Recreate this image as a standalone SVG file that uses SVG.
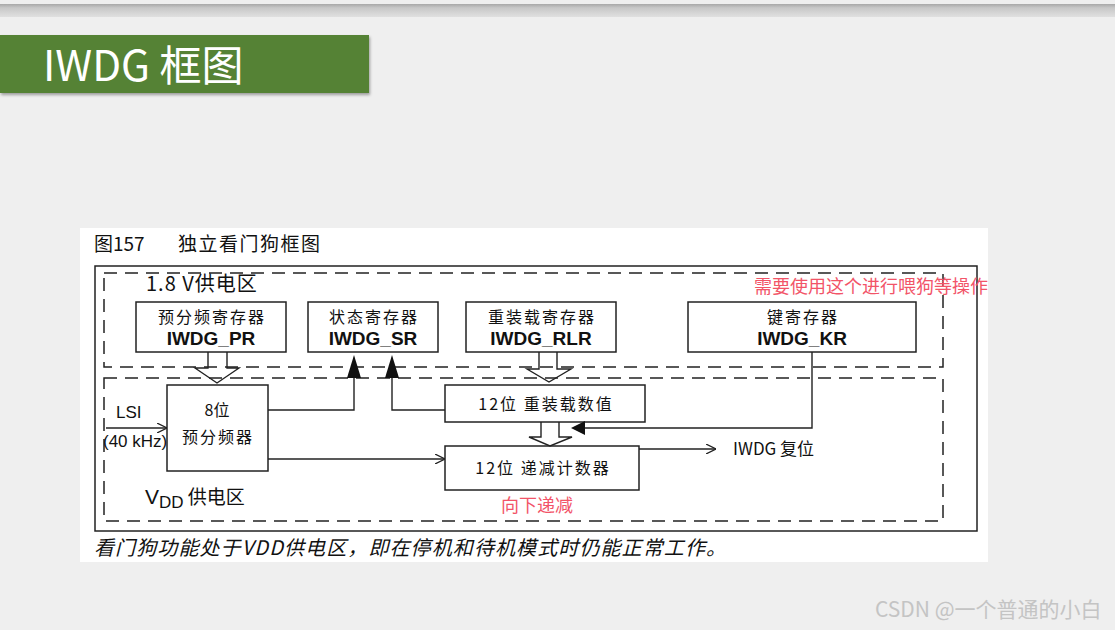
<svg xmlns="http://www.w3.org/2000/svg" width="1115" height="630" viewBox="0 0 1115 630">
<defs>
<linearGradient id="band" x1="0" y1="0" x2="0" y2="1">
<stop offset="0" stop-color="#a8a8a8"/>
<stop offset="0.3" stop-color="#c8c8c8"/>
<stop offset="1" stop-color="#e0e0e0"/>
</linearGradient>
<filter id="sh" x="-5%" y="-10%" width="110%" height="130%">
<feDropShadow dx="1" dy="2" stdDeviation="1.5" flood-color="#000" flood-opacity="0.35"/>
</filter>
<marker id="open" viewBox="0 0 10 10" refX="10" refY="5" markerWidth="10" markerHeight="10" markerUnits="userSpaceOnUse" orient="auto">
<path d="M0,0 L10,5 L0,10" fill="none" stroke="#222" stroke-width="1.3"/>
</marker>
</defs>
<style>
.t{font-family:"Liberation Sans","Noto Sans CJK SC",sans-serif;fill:#111}
.cn{font-family:"Noto Sans CJK SC","Liberation Sans",sans-serif;fill:#111}
.box{fill:#fff;stroke:#222;stroke-width:1.5}
.dash{fill:none;stroke:#222;stroke-width:1.5;stroke-dasharray:13 8}
.ln{fill:none;stroke:#222;stroke-width:1.4}
.red{font-family:"Noto Sans CJK SC","Liberation Sans",sans-serif;fill:#f25468;font-size:18px}
.lb1{font-size:16px;letter-spacing:2px;text-anchor:middle}
.lb2{font-size:19px;font-weight:bold;text-anchor:middle}
</style>
<rect width="1115" height="630" fill="#efefef"/>
<rect x="0" y="4" width="1115" height="13" fill="url(#band)"/>
<g id="title">
<rect x="0" y="35" width="369" height="58" fill="#548235" filter="url(#sh)"/>
<text x="43" y="81" font-family="'Noto Sans CJK SC','Noto Sans',sans-serif" font-size="42" fill="#fff">IWDG 框图</text>
</g>
<rect x="80" y="228" width="908" height="334" fill="#fff"/>
<text x="94" y="251" class="cn" font-size="19">图157<tspan x="178" letter-spacing="1.5">独立看门狗框图</tspan></text>
<rect x="95" y="266" width="882" height="265" fill="none" stroke="#222" stroke-width="1.5"/>
<g id="zone18">
<rect x="104" y="273" width="839" height="94" class="dash"/>
<text x="146" y="291" class="cn" font-size="20" letter-spacing="1">1.8 V供电区</text>
</g>
<g id="zoneVDD">
<rect x="104" y="378" width="839" height="143" class="dash"/>
<text x="145" y="504" class="t" font-size="21">V<tspan font-size="17" dy="4">DD</tspan><tspan class="cn" font-size="19" dy="-4"> 供电区</tspan></text>
</g>
<g id="PR">
<rect x="136" y="302" width="150" height="50" class="box"/>
<text x="212" y="323" class="cn lb1">预分频寄存器</text>
<text x="211" y="345" class="t lb2">IWDG_PR</text>
</g>
<g id="SR">
<rect x="308" y="302" width="130" height="50" class="box"/>
<text x="374" y="323" class="cn lb1">状态寄存器</text>
<text x="373" y="345" class="t lb2">IWDG_SR</text>
</g>
<g id="RLR">
<rect x="466" y="302" width="150" height="50" class="box"/>
<text x="542" y="323" class="cn lb1">重装载寄存器</text>
<text x="541" y="345" class="t lb2">IWDG_RLR</text>
</g>
<g id="KR">
<rect x="688" y="302" width="228" height="50" class="box"/>
<text x="803" y="323" class="cn lb1">键寄存器</text>
<text x="802" y="345" class="t lb2">IWDG_KR</text>
</g>
<g id="prescaler">
<rect x="167" y="385" width="101" height="86" class="box"/>
<text x="217" y="416" class="cn" font-size="16" text-anchor="middle">8位</text>
<text x="218" y="443" class="cn lb1">预分频器</text>
</g>
<g id="reload">
<rect x="445" y="385" width="200" height="37" class="box"/>
<text x="546" y="410" class="cn lb1">12位 重装载数值</text>
</g>
<g id="counter">
<rect x="445" y="446" width="194" height="44" class="box"/>
<text x="543" y="474" class="cn lb1">12位 递减计数器</text>
</g>
<g id="connectors">
<polyline points="208,352 208,368 195,368 217,383 239,368 227,368 227,352" class="ln"/>
<polyline points="539,352 539,369 527,369 549,382 571,369 557,369 557,352" class="ln"/>
<polyline points="541,422 541,437 529,437 550,446 572,437 559,437 559,422" class="ln"/>
<polyline points="268,410 354,410 354,375" class="ln"/>
<polygon points="347,378 361,378 354,355" fill="#111"/>
<polyline points="445,410 392,410 392,375" class="ln"/>
<polygon points="385,378 399,378 392,355" fill="#111"/>
<polyline points="812,352 812,428 583,428" class="ln"/>
<polygon points="571,428 585,421 585,435" fill="#111"/>
<line x1="268" y1="459" x2="445" y2="459" class="ln" marker-end="url(#open)"/>
<line x1="639" y1="449" x2="716" y2="449" class="ln" marker-end="url(#open)"/>
<line x1="106" y1="428" x2="167" y2="428" class="ln" marker-end="url(#open)"/>
</g>
<text x="116" y="418" class="t" font-size="17">LSI</text>
<text x="103" y="447" class="t" font-size="17">(40 kHz)</text>
<text x="733" y="455" class="cn" font-size="17">IWDG 复位</text>
<text x="754" y="293" class="red">需要使用这个进行喂狗等操作</text>
<text x="501" y="512" class="red">向下递减</text>
<text x="94" y="555" class="cn" font-size="20" font-style="italic" letter-spacing="1.1">看门狗功能处于VDD供电区，即在停机和待机模式时仍能正常工作。</text>
<text x="875" y="617" font-family="'Noto Sans CJK SC','Liberation Sans',sans-serif" font-size="21" fill="#c4c4c4">CSDN @一个普通的小白</text>
</svg>
